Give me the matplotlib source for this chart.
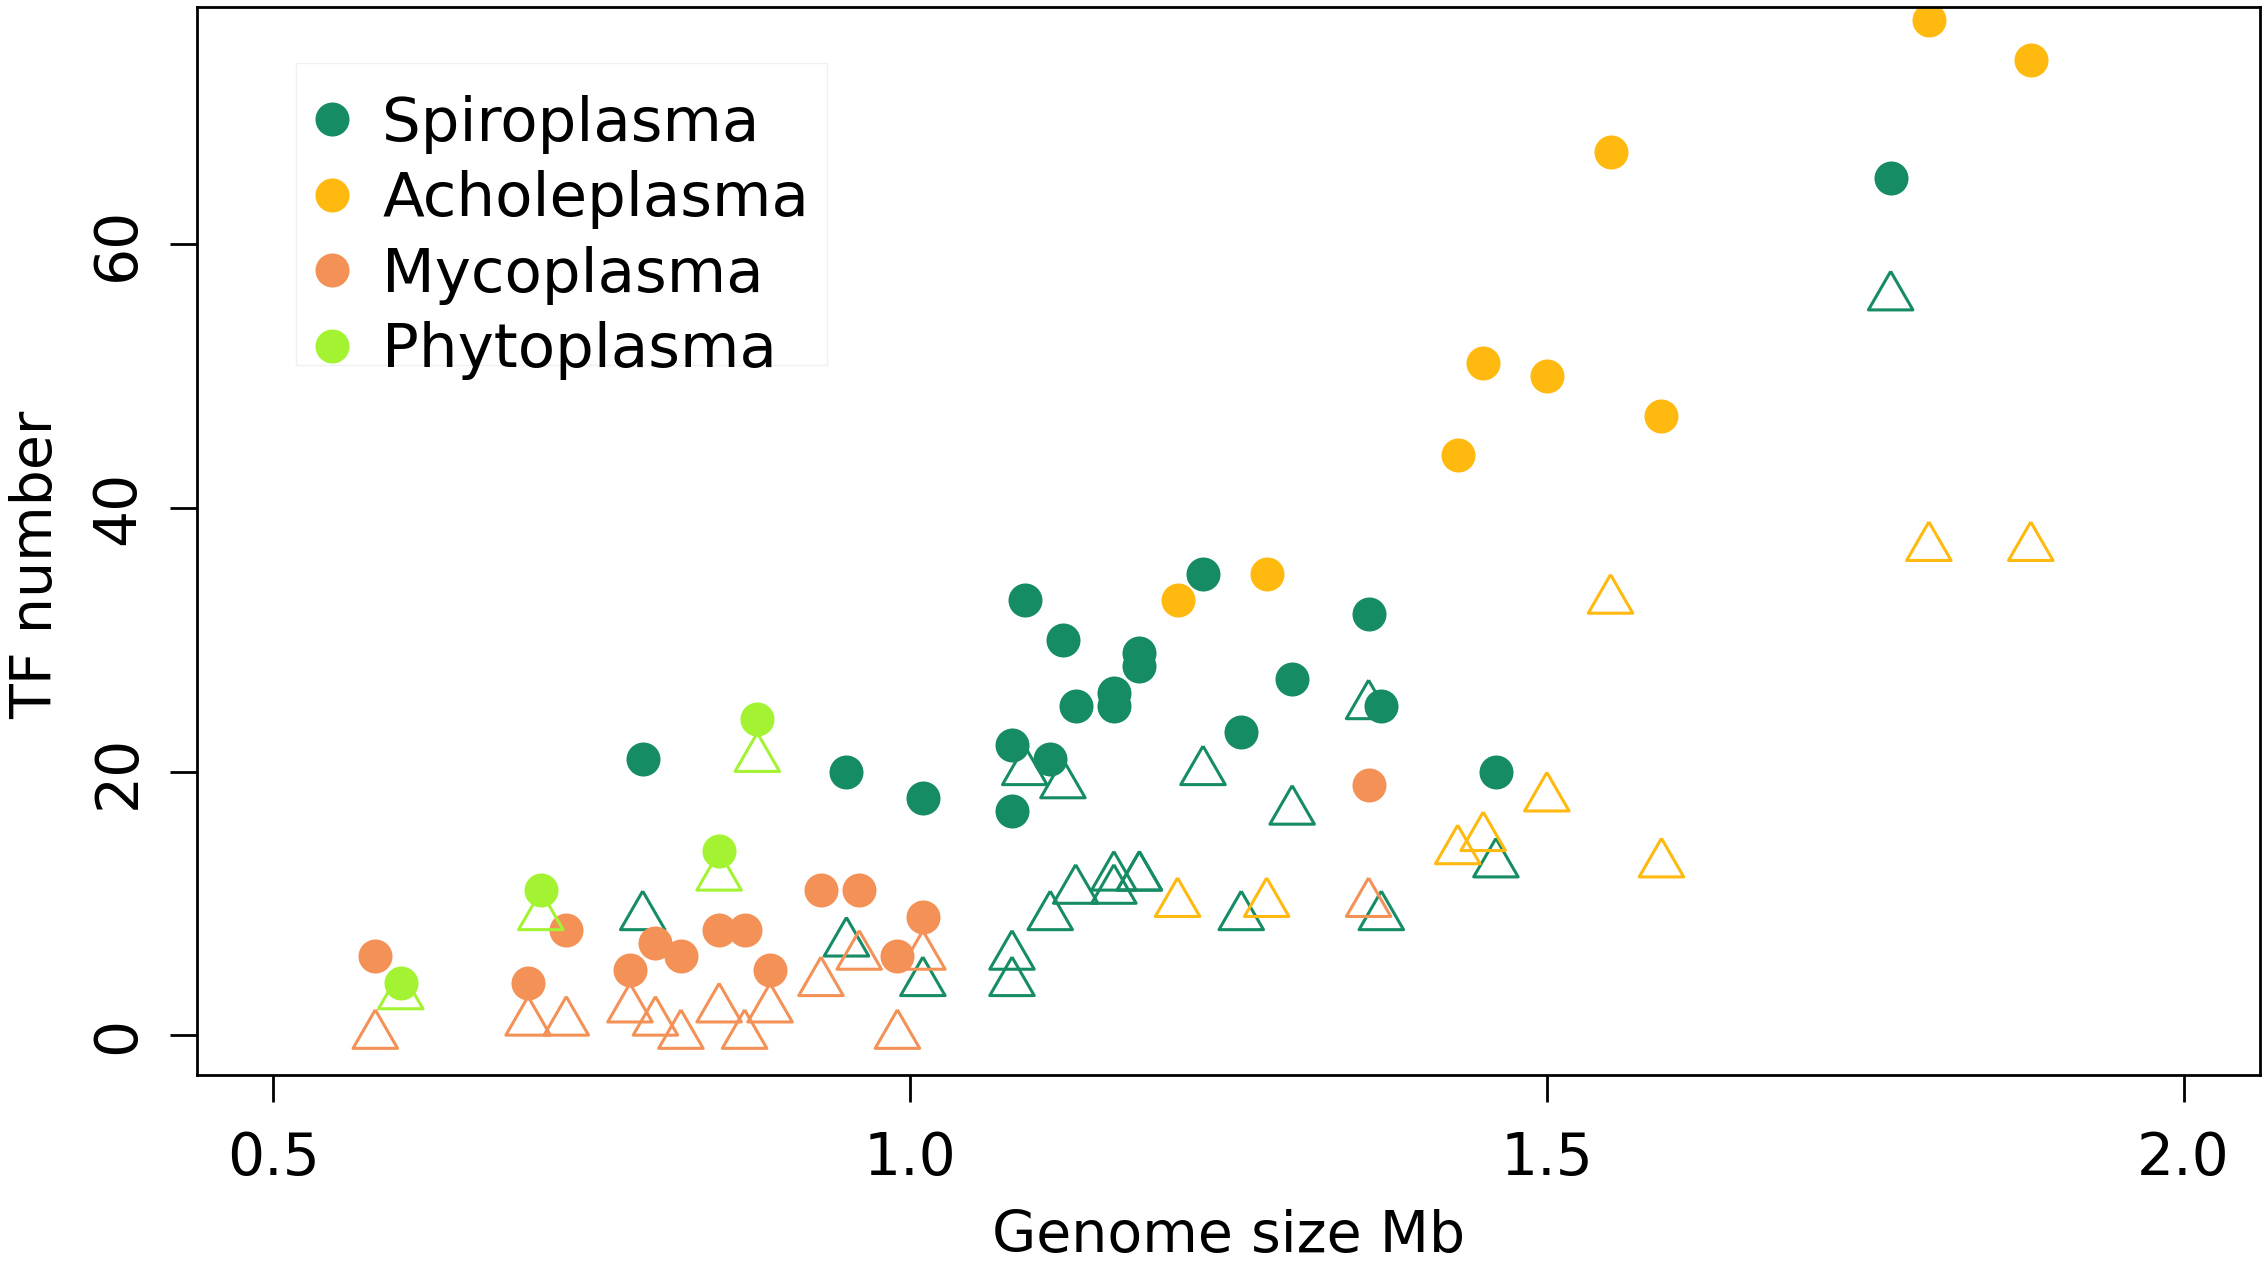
import numpy as np
import matplotlib.pyplot as plt
from matplotlib.lines import Line2D
from matplotlib.patches import Rectangle

# genome size (Mb), TF number (filled circles) and second count (open triangles)
spiro_size = [0.79, 0.95, 1.01, 1.08, 1.08, 1.09, 1.11, 1.12, 1.13, 1.16, 1.16,
              1.18, 1.18, 1.23, 1.26, 1.30, 1.36, 1.37, 1.46, 1.77]
spiro_tf = [21, 20, 18, 22, 17, 33, 21, 30, 25, 26, 25,
            29, 28, 35, 23, 27, 32, 25, 20, 65]
spiro_tri = [9, 7, 4, 6, 4, 20, 9, 19, 11, 12, 11,
             12, 12, 20, 9, 17, 25, 9, 13, 56]

achole_size = [1.21, 1.28, 1.43, 1.45, 1.50, 1.55, 1.59, 1.80, 1.88]
achole_tf = [33, 35, 44, 51, 50, 67, 47, 77, 74]
achole_tri = [10, 10, 14, 15, 18, 33, 13, 37, 37]

myco_size = [0.58, 0.70, 0.73, 0.78, 0.80, 0.82, 0.85, 0.87, 0.89, 0.93,
             0.96, 0.99, 1.01, 1.36]
myco_tf = [6, 4, 8, 5, 7, 6, 8, 8, 5, 11, 11, 6, 9, 19]
myco_tri = [0, 1, 1, 2, 1, 0, 2, 0, 2, 4, 6, 0, 6, 10]

phyto_size = [0.60, 0.71, 0.85, 0.88]
phyto_tf = [4, 11, 14, 24]
phyto_tri = [3, 9, 12, 21]

names = ["Spiroplasma", "Acholeplasma", "Mycoplasma", "Phytoplasma"]
colors = ["#168C64", "#FFB90F", "#F39157", "#A3F332"]

groups = [
    (spiro_size, spiro_tf, spiro_tri),
    (achole_size, achole_tf, achole_tri),
    (myco_size, myco_tf, myco_tri),
    (phyto_size, phyto_tf, phyto_tri),
]

# open triangle centred on its centroid, like R's pch = 2
tri = [(0, 1), (-0.866, -0.5), (0.866, -0.5), (0, 1)]

plt.rcParams['font.family'] = ['DejaVu Sans']

fig = plt.figure(figsize=(22.67, 12.67), dpi=100)
ax = fig.add_axes([0.0869, 0.1515, 0.91, 0.843])

for (size, tf, tr), col in zip(groups, colors):
    ax.scatter(size, tr, marker=tri, s=37 ** 2, facecolors='none',
               edgecolors=col, linewidths=2.2)
    ax.scatter(size, tf, marker='o', s=24.5 ** 2, color=col, linewidths=0)

ax.set_xlim(0.44, 2.06)
ax.set_ylim(-3, 78)
ax.set_xticks([0.5, 1.0, 1.5, 2.0])
ax.set_xticklabels(["0.5", "1.0", "1.5", "2.0"])
ax.set_yticks([0, 20, 40, 60])

for sp in ax.spines.values():
    sp.set_linewidth(2)
ax.tick_params(axis='both', direction='out', length=19.5, width=2,
               labelsize=42)
ax.tick_params(axis='x', pad=20)
ax.tick_params(axis='y', pad=17, labelrotation=90)
for lab in ax.get_yticklabels():
    lab.set_va('center')

ax.set_xlabel("Genome size Mb", fontsize=41, labelpad=16)
ax.set_ylabel("TF number", fontsize=41)
ax.yaxis.set_label_coords(-0.0645, 0.4775)

# light legend box (R draws the text slightly past its lower edge)
ax.add_patch(Rectangle((0.048, 0.6648), 0.2574, 0.2828, transform=ax.transAxes,
                       facecolor='white', edgecolor='#F0F0F0', linewidth=1,
                       zorder=4))

handles = [Line2D([], [], marker='o', linestyle='none', markersize=24.5,
                  markerfacecolor=c, markeredgewidth=0) for c in colors]
leg = ax.legend(handles, names, loc='upper left',
                bbox_to_anchor=(0.048, 0.9392), borderaxespad=0,
                fontsize=44, handlelength=0.44, handletextpad=0.6,
                borderpad=0.37, labelspacing=0.27, frameon=False)
leg.set_zorder(5)

fig.savefig("out.png", dpi=100)
